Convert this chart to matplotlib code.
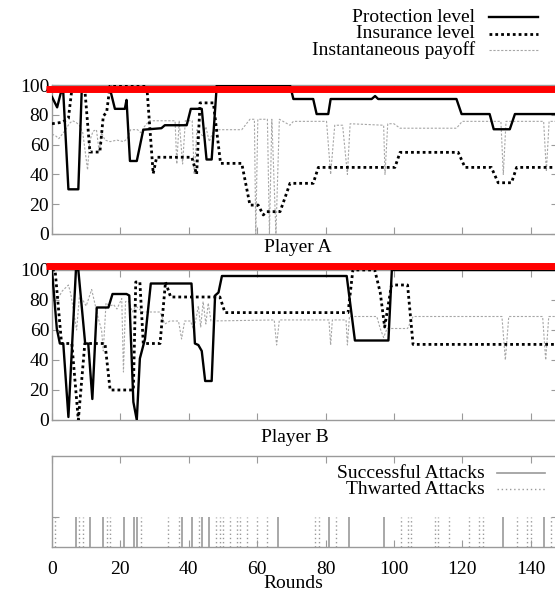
import matplotlib.pyplot as plt
from matplotlib.lines import Line2D

plt.rcParams['font.family'] = ['Liberation Serif', 'DejaVu Serif']

# ---- Player A ----
a_prot_x = [0, 1.5, 2.6, 3.3, 4.8, 7.7, 8.7, 17, 18.4, 21.3, 21.8, 22.8, 24.8, 26.7, 32, 33, 39.4, 40.6,
            43.8, 45.2, 46.7, 48.2, 69.6, 70.6, 76.4, 77.4, 80.8, 81.5, 93.5, 94.5, 95.4, 118.3, 119.8,
            128, 129.2, 133.9, 135.4, 150]
a_prot_y = [92, 85, 95, 95, 30, 30, 97, 97, 84, 84, 90, 49, 49, 70, 71, 73, 73, 84,
            84, 50, 50, 100, 100, 90.6, 90.6, 80.5, 80.5, 90.6, 90.6, 92.6, 90.6, 90.6, 80.5,
            80.5, 70.3, 70.3, 80.5, 80.5]

a_ins_x = [0, 3, 4.8, 5.8, 9.6, 11.1, 14, 15, 16, 17, 27.7, 29.6, 30.6, 40.9, 42.3, 43.3, 47.2, 49.3,
           55.5, 57.9, 60.3, 61.8, 62.8, 66.7, 68.1, 69.6, 76.4, 77.9, 100.3, 101.8, 118.8, 120.8,
           128.5, 130.5, 134.4, 135.9, 150]
a_ins_y = [74, 75, 77.6, 97, 97, 55, 55, 79, 82, 100, 100, 40.5, 51.5, 51.5, 40, 88, 88, 47.4,
           47.4, 19.4, 19.4, 12.8, 15, 15, 24, 34, 34, 44.7, 44.7, 54.8, 54.8, 44.7,
           44.7, 34.4, 34.4, 44.7, 44.7]

a_pay_x = [0, 1, 2, 3, 4, 5, 6, 7, 8, 9, 10.4, 11, 12, 13, 13.8, 14.5, 15.5, 17, 19, 21, 22, 23, 25, 26,
           27, 28.5, 36, 36.5, 37.2, 38.2, 39, 41, 41.6, 42.4, 44, 45, 46, 47, 48, 55.5, 57.9, 59.2, 59.6,
           60.2, 63, 63.6, 64.3, 65.5, 66.5, 69.6, 70.6, 80.3, 81.5, 82.7, 85, 86.4, 87.2, 97, 97.4,
           98.2, 100, 101.8, 118.3, 120, 131.3, 132, 132.8, 143.8, 144.6, 145.4, 150]
a_pay_y = [67, 66, 64, 67, 70, 74, 76, 75, 73, 68, 43, 62, 69, 70, 55, 68, 63, 62, 63, 62, 64, 70, 70, 68,
           72, 76, 76, 47, 76, 47, 76, 76, 40, 70, 66, 72, 62, 68, 70, 70, 77, 77, 0,
           77, 77, 0, 77, 0, 77, 73, 75.6, 75.6, 40, 73, 73, 40, 74, 73, 40,
           74, 74, 71, 71, 75.6, 75.6, 40, 75.6, 75.6, 42, 75.6, 75.6]

# ---- Player B ----
b_prot_x = [0, 1.4, 2.3, 3.3, 4.8, 7, 7.7, 9.7, 10.6, 11.8, 13.1, 16.5, 17.7, 21.8, 22.6, 23.8, 24.8, 25.7,
            27.2, 28.9, 40.8, 41.8, 42.8, 43.8, 44.8, 46.7, 47.7, 48.7, 49.7, 86.2, 88.6, 98.4, 99.4, 150]
b_prot_y = [100, 61, 51, 51, 2, 100, 100, 51, 51, 14, 75, 75, 84, 84, 83, 12, 0, 41,
            54, 91, 91, 51, 50, 46, 26, 26, 83, 85, 96, 96, 53, 53, 100, 100]

b_ins_x = [0, 0.9, 2.8, 5.8, 7.7, 9.6, 15.5, 17, 23.8, 24.5, 25.7, 26.7, 31.6, 33.2, 34.7, 49.1, 50.6,
           86.6, 88, 94.4, 96, 97.3, 99.3, 104, 105.6, 150]
b_ins_y = [100, 100, 51, 51, 0, 51, 51, 20, 20, 92, 92, 51, 51, 92, 82, 82, 71.6,
           71.6, 100, 100, 85, 62, 90, 90, 50.4, 50.4]

b_pay_x = [0, 1, 2, 3, 4.8, 5.5, 6.5, 7.2, 8, 9, 10, 11.6, 12.5, 13.5, 14.5, 15, 15.8, 17, 18, 19, 20.4,
           20.9, 21.5, 22.5, 23.5, 24.5, 25.5, 26.5, 31.6, 33, 34.5, 37, 37.9, 38.8, 40.5, 41.3, 42,
           42.8, 43.5, 44.2, 45, 45.7, 46.5, 65, 65.7, 66.5, 81, 81.5, 82, 86, 86.4, 87, 95, 96, 97,
           98, 104, 105.6, 131.6, 132.6, 133.6, 143.5, 144.4, 145.3, 150]
b_pay_y = [80, 79, 82, 86, 90, 84, 70, 60, 82, 80, 76, 87, 78, 68, 60, 46, 78, 76, 77, 74, 81,
           32, 79, 79, 72, 76, 74, 72, 72, 64, 66, 66, 54, 66, 66, 61, 66,
           76, 62, 79, 64, 78, 66, 66.7, 50, 66.7, 66.7, 50, 66.7, 66.7, 50, 69, 69, 61, 55,
           61, 61, 69, 69, 40, 69, 69, 40, 69, 69]

# ---- attacks ----
successful = [7, 11, 15, 21, 24, 25, 38, 41, 44, 46, 66, 81, 87, 97, 132, 144]
thwarted = [1, 8, 9, 16, 17, 26, 34, 37, 43, 48, 49, 50, 52, 54, 55, 57, 60, 63, 77, 78, 83,
            102, 104, 105, 112, 113, 116, 122, 125, 126, 136, 139, 140, 146]

W, H = 555, 592
fig = plt.figure(figsize=(W / 100, H / 100), dpi=100)

def box(left, top, right, bottom):
    return [left / W, 1 - bottom / H, (right - left) / W, (bottom - top) / H]

frame = '#9a9a9a'
paycol = '#a6a6a6'
ins_style = (0, (1, 1.1))
pay_style = (0, (2, 1.5))

ax_a = fig.add_axes(box(52, 85, 558, 234))
ax_b = fig.add_axes(box(52, 270, 558, 420))
ax_c = fig.add_axes(box(52, 456, 558, 547))

for ax in (ax_a, ax_b, ax_c):
    ax.set_xlim(0, 148)
    for s in ax.spines.values():
        s.set_color(frame)
        s.set_linewidth(1.0)
    ax.tick_params(direction='in', length=5, width=0.8, color=frame, top=True, right=True,
                   labelsize=14, pad=2)
    ax.set_xticks(range(0, 141, 20))

for ax, px, py, ix, iy, yx, yy in ((ax_a, a_prot_x, a_prot_y, a_ins_x, a_ins_y, a_pay_x, a_pay_y),
                                   (ax_b, b_prot_x, b_prot_y, b_ins_x, b_ins_y, b_pay_x, b_pay_y)):
    ax.set_ylim(0, 100)
    ax.set_yticks(range(0, 101, 20))
    ax.tick_params(labelbottom=False)
    ax.plot(yx, yy, color=paycol, lw=0.8, ls=pay_style, zorder=2)
    ax.plot(ix, iy, color='black', lw=2.0, ls=ins_style, zorder=3)
    ax.plot(px, py, color='black', lw=1.7, zorder=4)

# red overlay bars
ax_a.plot([-1.8, 150], [97, 97], color='red', lw=5, clip_on=False, zorder=10, solid_capstyle='butt')
ax_b.plot([-1.8, 150], [103, 103], color='red', lw=5, clip_on=False, zorder=10, solid_capstyle='butt')

# attacks panel
ax_c.set_ylim(0, 3)
ax_c.set_yticks([1])
ax_c.tick_params(labelleft=False, labelright=False, pad=10)
ax_c.vlines(successful, 0, 1, color='#999999', lw=1.2)
ax_c.vlines(thwarted, 0, 1, color='#999999', lw=1.0, linestyles=[(0, (1, 2))])

# titles and labels
fig.text(298 / W, 1 - 248 / H, 'Player A', ha='center', va='center', fontsize=14)
fig.text(295 / W, 1 - 437 / H, 'Player B', ha='center', va='center', fontsize=14)
fig.text(293 / W, 1 - 584 / H, 'Rounds', ha='center', va='center', fontsize=14)

# top legend
legend_a = [('Protection level', dict(color='black', lw=1.7)),
            ('Insurance level', dict(color='black', lw=2.0, ls=ins_style)),
            ('Instantaneous payoff', dict(color=paycol, lw=0.8, ls=pay_style))]
for i, (label, kw) in enumerate(legend_a):
    y = 1 - (17 + 16.5 * i) / H
    fig.text(475 / W, y, label, ha='right', va='center', fontsize=14)
    fig.add_artist(Line2D([489 / W, 538 / W], [y, y], **kw))

# attacks legend
legend_c = [('Successful Attacks', dict(color='#999999', lw=1.2)),
            ('Thwarted Attacks', dict(color='#999999', lw=1.0, ls=(0, (1, 2))))]
for i, (label, kw) in enumerate(legend_c):
    y = 1 - (473 + 16 * i) / H
    fig.text(485 / W, y, label, ha='right', va='center', fontsize=14)
    fig.add_artist(Line2D([497 / W, 545 / W], [y, y], **kw))

fig.savefig('out.png', dpi=100)
